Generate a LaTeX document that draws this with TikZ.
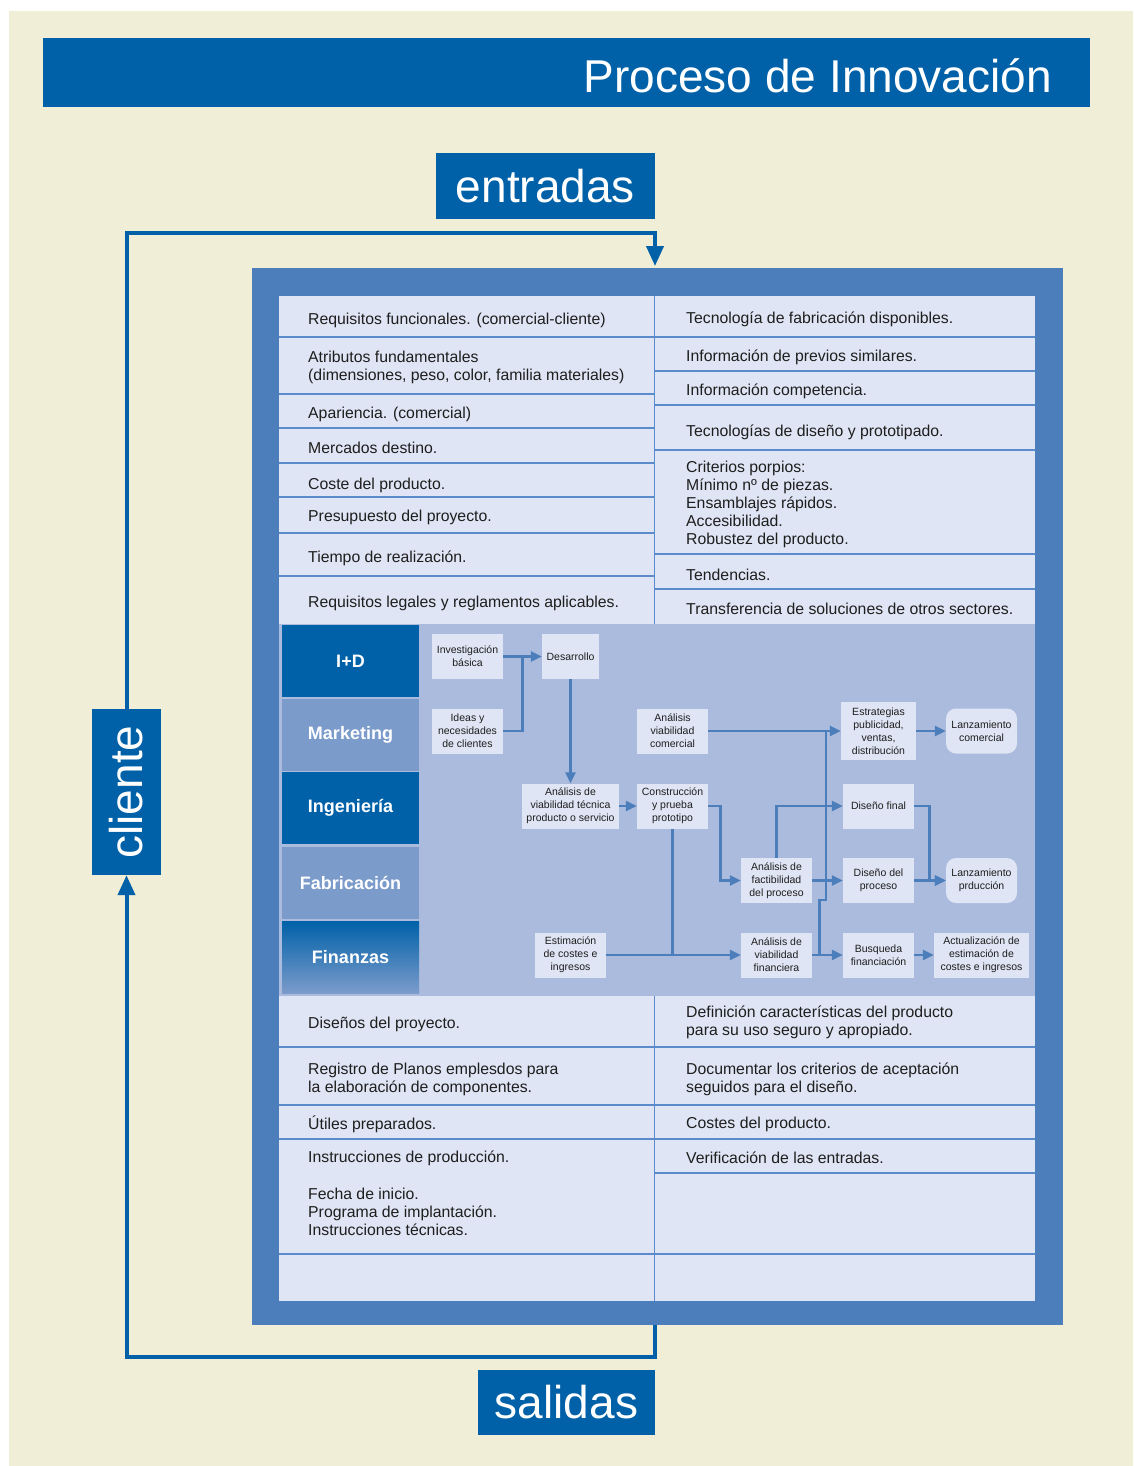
\documentclass[tikz,border=0pt]{standalone}
\usepackage{fontspec}
\setmainfont{Liberation Sans}
\setsansfont{Liberation Sans}
\usetikzlibrary{arrows.meta, positioning, calc}
\definecolor{cdark}{HTML}{0061A8}
\definecolor{cframe}{HTML}{4D7EBC}
\definecolor{cpanel}{HTML}{DFE5F4}
\definecolor{cflow}{HTML}{AABBDD}
\definecolor{cmid}{HTML}{7B9BCB}
\definecolor{ccream}{HTML}{F0EED6}
\definecolor{cink}{HTML}{1E1E1E}
\definecolor{cline}{HTML}{5B8BCB}
\tikzset{
  every picture/.style={x=1pt, y=-1pt},
  tag/.style={fill=cdark, text=white, font=\fontsize{46}{50}\selectfont, inner sep=0pt},
  dept/.style={fill=#1, text=white, font=\bfseries\fontsize{18}{20}\selectfont, minimum width=137pt, minimum height=72pt, inner sep=0pt},
  dept/.default=cdark,
  flow/.style={fill=cpanel, text=cink, align=center, font=\fontsize{10.5}{13}\selectfont, minimum width=71pt, minimum height=45pt, inner sep=2pt},
  launch/.style={flow, rounded corners=10pt},
  wire/.style={draw=cframe, line width=2.6pt},
  link/.style={wire, -{Triangle[length=11pt, width=10pt]}},
  row/.style={anchor=west, align=left, text=cink, font=\fontsize{15.8}{18}\selectfont, inner sep=0pt, yshift=-2pt},
  rule/.style={draw=cline, line width=1.3pt},
  loop/.style={draw=cdark, line width=4pt},
}

\begin{document}
\begin{tikzpicture}
  \useasboundingbox (0,0) rectangle (1133,1466);
  \fill[white] (0,0) rectangle (1133,1466);
  \fill[ccream] (9,11) rectangle (1133,1466);
  % title bar
  \fill[cdark] (43,38) rectangle (1090,107);
  \node[tag, anchor=base east, fill=none] (title) at (1052,93) {Proceso de Innovación};
  \node[tag, minimum width=219pt, minimum height=66pt] (entradas) at (545.5,186) {entradas};
  \node[tag, minimum width=177pt, minimum height=65pt] (salidas) at (566.5,1402.5) {salidas};
  \node[tag, rotate=90, minimum width=166pt, minimum height=69pt] (cliente) at (126.5,792) {cliente};
  % frame and panel
  \fill[cframe] (252,268) rectangle (1063,1325);
  \fill[cpanel] (279,296) rectangle (1035,1301);
  \coordinate (inlet) at (655,266);
  \coordinate (outlet) at (655,1325);
  \draw[loop, -{Triangle[length=20pt, width=17pt]}] (cliente.east) |- (655,233) -- (inlet);
  \draw[loop, -{Triangle[length=20pt, width=17pt]}] (outlet) -- (655,1357) -| (cliente.west);
  % entradas table
  \foreach \y in {337,394,428,463,497,533,576} \draw[rule] (279,\y) -- (654,\y);
  \foreach \y in {337,371,405,450,554,589} \draw[rule] (654,\y) -- (1035,\y);
  \draw[rule, line width=1pt] (654,296) -- (654,624);
  \foreach \y/\t [count=\i] in {318/{Requisitos funcionales. (comercial-cliente)},
      365/{Atributos fundamentales\\(dimensiones, peso, color, familia materiales)},
      412/{Apariencia. (comercial)}, 446/{Mercados destino.}, 483/{Coste del producto.},
      515/{Presupuesto del proyecto.}, 556/{Tiempo de realización.},
      601/{Requisitos legales y reglamentos aplicables.}}
    \node[row] (inL\i) at (308,\y) {\t};
  \foreach \y/\t [count=\i] in {317/{Tecnología de fabricación disponibles.},
      355/{Información de previos similares.}, 389/{Información competencia.},
      430/{Tecnologías de diseño y prototipado.},
      502/{Criterios porpios:\\Mínimo nº de piezas.\\Ensamblajes rápidos.\\Accesibilidad.\\Robustez del producto.},
      573/{Tendencias.}, 607/{Transferencia de soluciones de otros sectores.}}
    \node[row] (inR\i) at (686,\y) {\t};
  % process area
  \fill[cflow] (279,624) rectangle (1035,996);
  \node[dept] (iyd) at (350.5,661) {I+D};
  \node[dept=cmid] (mkt) at (350.5,735) {Marketing};
  \node[dept] (ing) at (350.5,808) {Ingeniería};
  \node[dept=cmid] (fab) at (350.5,883) {Fabricación};
  \node[dept, top color=cdark, bottom color=cmid] (fin) at (350.5,957) {Finanzas};

  \node[flow] (invest) at (467.5,656.5) {Investigación\\básica};
  \node[flow, minimum width=57pt] (desarr) at (570.5,656.5) {Desarrollo};
  \node[flow] (ideas) at (467.5,731) {Ideas y\\necesidades\\de clientes};
  \node[flow, minimum width=97pt] (vtecnica) at (570.5,806) {Análisis de\\viabilidad técnica\\producto o servicio};
  \node[flow] (vcomerc) at (672.5,731) {Análisis\\viabilidad\\comercial};
  \node[flow] (prototipo) at (672.5,806) {Construcción\\y prueba\\prototipo};
  \node[flow] (estim) at (570.5,955) {Estimación\\de costes e\\ingresos};
  \node[flow] (factib) at (776.5,880.5) {Análisis de\\factibilidad\\del proceso};
  \node[flow] (vfinanc) at (776.5,955) {Análisis de\\viabilidad\\financiera};
  \node[flow, minimum width=75pt, minimum height=58pt] (estrat) at (878.5,731) {Estrategias\\publicidad,\\ventas,\\distribución};
  \node[flow] (dfinal) at (878.5,806) {Diseño final};
  \node[flow] (dproceso) at (878.5,880.5) {Diseño del\\proceso};
  \node[flow] (busq) at (878.5,955) {Busqueda\\financiación};
  \node[launch] (lcomerc) at (981.5,731) {Lanzamiento\\comercial};
  \node[launch] (lprod) at (981.5,880.5) {Lanzamiento\\prducción};
  \node[flow, minimum width=95pt] (actual) at (981.5,955) {Actualización de\\estimación de\\costes e ingresos};

  \coordinate (jn1) at ($(invest.east)!0.5!(desarr.west)$);
  \coordinate (jn2) at ($(vfinanc.east)+(7,0)$);
  \coordinate (jn3) at ($(estrat.west)+(-15,0)$);
  \draw[link] (invest) -- (desarr);
  \draw[wire] (ideas) -| (jn1);
  \draw[link] (desarr) -- (vtecnica);
  \draw[link] (vtecnica) -- (prototipo);
  \draw[link] (prototipo.east) -- ++(12,0) |- (factib);
  \draw[wire] (prototipo) -- (prototipo |- estim);
  \draw[link] (estim) -- (vfinanc);
  \draw[link] (vcomerc) -- (estrat);
  \draw[link] (factib) |- (dfinal);
  \draw[link] (factib) -- (dproceso);
  \draw[link] (vfinanc) -- (busq);
  \draw[wire] (jn2) -- ++(0,-55) -| (jn3);
  \draw[link] (dfinal.east) -- ++(15,0) |- (lprod);
  \draw[link] (dproceso) -- (lprod);
  \draw[link] (estrat) -- (lcomerc);
  \draw[link] (busq) -- (actual);
  % salidas table
  \foreach \y in {1047,1105,1139,1254} \draw[rule] (279,\y) -- (654,\y);
  \foreach \y in {1047,1105,1139,1173,1254} \draw[rule] (654,\y) -- (1035,\y);
  \draw[rule, line width=1pt] (654,996) -- (654,1301);
  \foreach \y/\t [count=\i] in {1022/{Diseños del proyecto.},
      1077/{Registro de Planos emplesdos para\\la elaboración de componentes.},
      1122/{Útiles preparados.}, 1156/{Instrucciones de producción.},
      1210/{Fecha de inicio.\\Programa de implantación.\\Instrucciones técnicas.}}
    \node[row] (outL\i) at (308,\y) {\t};
  \foreach \y/\t [count=\i] in {1020/{Definición características del producto\\para su uso seguro y apropiado.},
      1077/{Documentar los criterios de aceptación\\seguidos para el diseño.},
      1122/{Costes del producto.}, 1156/{Verificación de las entradas.}}
    \node[row] (outR\i) at (686,\y) {\t};
\end{tikzpicture}
\end{document}
